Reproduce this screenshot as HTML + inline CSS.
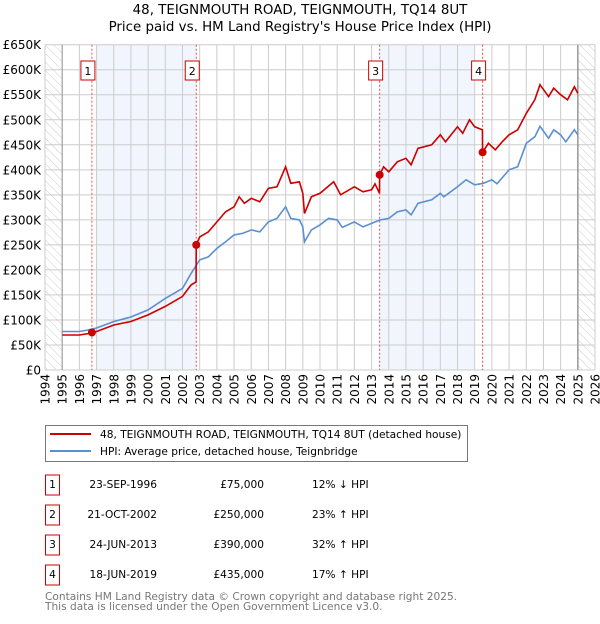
<!DOCTYPE html>
<html><head><meta charset="utf-8"><style>
body{margin:0;width:600px;height:620px;background:#fff;font-family:"DejaVu Sans","Liberation Sans",sans-serif;overflow:hidden}
svg text{font-family:"DejaVu Sans","Liberation Sans",sans-serif}
</style></head><body>
<svg id="chart" width="600" height="620" xmlns="http://www.w3.org/2000/svg">
<defs><pattern id="hatch" width="6" height="6" patternUnits="userSpaceOnUse" patternTransform="rotate(-45)"><line x1="0" y1="0" x2="0" y2="6" stroke="#ccc" stroke-width="1"/></pattern></defs>
<text x="300" y="14" text-anchor="middle" font-size="13.4">48, TEIGNMOUTH ROAD, TEIGNMOUTH, TQ14 8UT</text>
<text x="300" y="31" text-anchor="middle" font-size="13.4">Price paid vs. HM Land Registry's House Price Index (HPI)</text>
<g id="plot"></g>
<g>
<rect x="45.5" y="425.5" width="422" height="36" fill="#fff" stroke="#777"/>
<line x1="50" y1="434" x2="91" y2="434" stroke="#cc0000" stroke-width="2"/>
<text x="100" y="438" font-size="10.6">48, TEIGNMOUTH ROAD, TEIGNMOUTH, TQ14 8UT (detached house)</text>
<line x1="50" y1="451" x2="91" y2="451" stroke="#5b8fd0" stroke-width="2"/>
<text x="100" y="455" font-size="10.6">HPI: Average price, detached house, Teignbridge</text>
</g>
<g id="table" font-size="10.6"></g>
<text x="45" y="600" font-size="10.6" fill="#777">Contains HM Land Registry data © Crown copyright and database right 2025.</text>
<text x="45" y="610" font-size="10.6" fill="#777">This data is licensed under the Open Government Licence v3.0.</text>
</svg>
<script>
const hpiYears=[1995,1996,1996.5,1997,1998,1999,2000,2001,2002,2002.5,2003,2003.5,2004,2004.5,2005,2005.5,2006,2006.5,2007,2007.5,2008,2008.3,2008.8,2009.0,2009.1,2009.5,2010,2010.5,2011,2011.3,2012,2012.5,2013,2013.5,2014,2014.5,2015,2015.3,2015.7,2016.5,2017,2017.2,2018,2018.5,2019,2019.5,2020,2020.3,2021,2021.5,2022,2022.5,2022.8,2023.3,2023.6,2024,2024.3,2024.8,2025];
const hpiValues=[77,77,80,84,97,106,120,143,163,193,220,226,243,256,270,273,280,276,296,303,326,303,300,286,256,280,290,303,300,285,296,286,293,300,303,316,320,310,333,340,353,346,366,380,370,373,380,372,400,406,453,466,487,463,480,470,456,480,470];
const priceYears=[1995,1996,1996.72,1996.73,1997,1998,1999,2000,2001,2002,2002.5,2002.79,2002.8,2003,2003.5,2004,2004.5,2005,2005.3,2005.6,2006,2006.5,2007,2007.5,2008,2008.3,2008.8,2009.0,2009.1,2009.5,2010,2010.8,2011.2,2012,2012.5,2013,2013.2,2013.46,2013.47,2013.7,2014,2014.5,2015,2015.3,2015.7,2016.5,2017,2017.3,2018,2018.3,2018.7,2019,2019.45,2019.46,2019.8,2020.2,2020.6,2021,2021.5,2022,2022.5,2022.8,2023.3,2023.6,2024,2024.4,2024.8,2025];
const priceValues=[70,70,74,75,77,90,97,110,127,147,170,176,250,266,276,296,316,326,346,333,343,336,363,366,406,373,376,353,313,346,353,376,350,366,356,360,372,353,390,406,396,416,423,410,443,450,470,456,486,473,500,486,480,435,453,440,456,470,480,513,540,570,546,563,550,540,566,553];
const saleYears=[1996.73,2002.8,2013.47,2019.46];
const saleValues=[75,250,390,435];
const saleLabels=["1","2","3","4"];
const saleDates=["23-SEP-1996","21-OCT-2002","24-JUN-2013","18-JUN-2019"];
const salePrices=["£75,000","£250,000","£390,000","£435,000"];
const saleDiffs=["12% ↓ HPI","23% ↑ HPI","32% ↑ HPI","17% ↑ HPI"];
const yTicks=[0,50,100,150,200,250,300,350,400,450,500,550,600,650];
const yTickLabels=["£0","£50K","£100K","£150K","£200K","£250K","£300K","£350K","£400K","£450K","£500K","£550K","£600K","£650K"];
const xTicks=[1994,1995,1996,1997,1998,1999,2000,2001,2002,2003,2004,2005,2006,2007,2008,2009,2010,2011,2012,2013,2014,2015,2016,2017,2018,2019,2020,2021,2022,2023,2024,2025,2026];

const L=45,R=595,T=44.7,B=370;
const X=y=>L+(y-1994)/(2026-1994)*(R-L);
const Y=v=>B-v/650*(B-T);
const NS="http://www.w3.org/2000/svg";
const plot=document.getElementById('plot');
function mk(tag,attrs,parent){const e=document.createElementNS(NS,tag);for(const k in attrs)e.setAttribute(k,attrs[k]);(parent||plot).appendChild(e);return e;}

let bg=mk('rect',{x:L,y:T,width:R-L,height:B-T,fill:'#fff'});


let s1=mk('rect',{x:X(1997),y:T,width:X(saleYears[1])-X(1997),height:B-T,fill:'#eef3fc',opacity:0.8});


let s2=mk('rect',{x:X(saleYears[2]),y:T,width:X(2018.96)-X(saleYears[2]),height:B-T,fill:'#eef3fc',opacity:0.8});


let h1=mk('rect',{x:L,y:T,width:X(1995)-L,height:B-T,fill:'url(#hatch)'});


let h2=mk('rect',{x:X(2025),y:T,width:R-X(2025),height:B-T,fill:'url(#hatch)'});



yTicks.forEach((v,i)=>{
  let g=mk('line',{x1:L,x2:R,y1:Y(v),y2:Y(v),stroke:'#ccc','stroke-width':1});
  
  
  let t=mk('text',{x:L-4,y:Y(v)+4.5,'text-anchor':'end','font-size':12});
  
  
  t.textContent=yTickLabels[i];
});
xTicks.forEach(yr=>{
  let g=mk('line',{x1:X(yr),x2:X(yr),y1:T,y2:B,stroke:'#ccc','stroke-width':1});
  
  
  let t=mk('text',{x:0,y:0,'text-anchor':'end','font-size':12,transform:`translate(${X(yr)+4.5},${B+4}) rotate(-90)`});
  
  
  t.textContent=yr;
});
let a1=mk('line',{x1:X(1995),x2:X(1995),y1:T,y2:B,stroke:'#999','stroke-width':1});


let a2=mk('line',{x1:X(2025),x2:X(2025),y1:T,y2:B,stroke:'#999','stroke-width':1.5});



saleYears.forEach((yr,i)=>{
  let v=mk('line',{x1:X(yr),x2:X(yr),y1:T,y2:B,stroke:'#e05050','stroke-width':1,'stroke-dasharray':'2,2'});
  
  
  let bx=mk('rect',{x:X(yr)-11,y:61,width:14,height:19,fill:'#fff',stroke:'#cc0000'});
  
  
  let t=mk('text',{x:X(yr)-4,y:75,'text-anchor':'middle','font-size':11});
  
  
  t.textContent=saleLabels[i];
});

const pts=(xs,vs)=>xs.map((x,i)=>X(x).toFixed(1)+','+Y(vs[i]).toFixed(1)).join(' ');
let hl=mk('polyline',{points:pts(hpiYears,hpiValues),fill:'none',stroke:'#5b8fd0','stroke-width':1.6});


let pl=mk('polyline',{points:pts(priceYears,priceValues),fill:'none',stroke:'#cc0000','stroke-width':1.6});


saleYears.forEach((yr,i)=>{
  let c=mk('circle',{cx:X(yr),cy:Y(saleValues[i]),r:4,fill:'#cc0000'});
  
  
});

const tb=document.getElementById('table');
const rowY=[484,514,544,574];
saleLabels.forEach((lab,i)=>{
  let y=rowY[i];
  let b=mk('rect',{x:45.5,y:y-9,width:14,height:20,fill:'#fff',stroke:'#cc0000'},tb);
  
  
  let t0=mk('text',{x:52.5,y:y+4,'text-anchor':'middle'},tb);
  
  
  t0.textContent=lab;
  let t1=mk('text',{x:157,y:y+4,'text-anchor':'end'},tb);
  
  
  t1.textContent=saleDates[i];
  let t2=mk('text',{x:264,y:y+4,'text-anchor':'end'},tb);
  
  
  t2.textContent=salePrices[i];
  let t3=mk('text',{x:312,y:y+4},tb);
  
  
  t3.textContent=saleDiffs[i];
});
</script>
</body></html>
